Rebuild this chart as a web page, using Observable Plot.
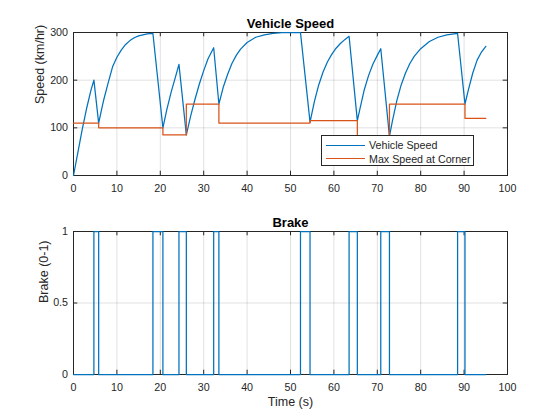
<!DOCTYPE html>
<html>
<head>
<meta charset="utf-8">
<script src="https://cdn.jsdelivr.net/npm/d3@7"></script>
<script src="https://cdn.jsdelivr.net/npm/@observablehq/plot@0.6"></script>
<style>
  body { margin: 0; background: #fff; }
  #wrap { position: relative; width: 560px; height: 420px; font-family: "Liberation Sans", Arial, sans-serif; }
  #wrap svg { display: block; }
  .legend { position: absolute; left: 321px; top: 135px; width: 153px; height: 31px; box-sizing: border-box;
            border: 1px solid #262626; background: #fff; font-size: 10.7px; color: #262626; }
  .legend .row { position: absolute; left: 4px; height: 12px; display: flex; align-items: center; }
  .legend .sw { width: 39px; height: 0; border-top: 1.3px solid; margin-right: 4px; }
</style>
</head>
<body>
<div id="wrap"></div>
<script>
// ---- data ----
const speedTime  = [0, 1, 2, 3, 4, 4.7, 5.8, 6.5, 7, 8, 9, 10, 11, 12, 13, 14, 15, 16, 17, 18.3,
                    20.6, 21.5, 22.5, 23.5, 24.3, 26, 27, 28, 29, 30, 31, 32.3,
                    33.5, 34.5, 35.5, 36.5, 37.5, 38.5, 40, 42, 44, 46, 48, 50, 52.3,
                    54.5, 55.5, 56.5, 57.5, 58.5, 59.5, 60.5, 61.5, 62.5, 63.5,
                    65.4, 66, 67, 68, 69, 70, 70.8,
                    72.8, 73.5, 74.5, 75.5, 76.5, 77.5, 78.5, 80, 82, 84, 86, 88.5,
                    90.2, 91, 92, 93, 94, 95];
const speedValue = [0, 48, 96, 140, 178, 200, 110, 140, 160, 195, 228, 248, 263, 275, 283, 289, 293, 295, 297, 298,
                    100, 138, 175, 207, 233, 85, 125, 160, 192, 220, 245, 268,
                    150, 185, 212, 235, 252, 265, 279, 290, 295, 298, 299.5, 300, 300,
                    112, 155, 190, 217, 238, 254, 267, 277, 285, 292,
                    115, 140, 180, 210, 234, 252, 266,
                    82, 115, 157, 190, 215, 235, 250, 266, 281, 290, 295, 298,
                    150, 180, 215, 242, 259, 271];
const cornerTime = [0, 5.8, 20.6, 26, 33.5, 54.5, 65.4, 72.8, 90.2, 95];
const cornerMax  = [110, 100, 85, 150, 110, 115, 80, 150, 120, 120];
const brakeTime  = [0, 4.7, 5.8, 18.3, 20.6, 24.3, 26, 32.3, 33.5, 52.3, 54.5, 63.5, 65.4, 70.8, 72.8, 88.5, 90.2, 95];
const brakeValue = [0, 1, 0, 1, 0, 1, 0, 1, 0, 1, 0, 1, 0, 1, 0, 1, 0, 0];
const xTicks     = [0, 10, 20, 30, 40, 50, 60, 70, 80, 90, 100];
const speedTicks = [0, 100, 200, 300];
const brakeTicks = [0, 0.5, 1];

const seriesNames = ["Vehicle Speed", "Max Speed at Corner"];
const colors = ["#0072BD", "#D95319"];

const speed  = speedTime.map((t, i) => ({t, v: speedValue[i]}));
const corner = cornerTime.map((t, i) => ({t, v: cornerMax[i]}));
const brake  = brakeTime.map((t, i) => ({t, v: brakeValue[i]}));

const W = 560, ML = 73, MR = 53, H = 210, innerH = 143, innerW = W - ML - MR;
const TL = 4.3; // inner tick length
const axisColor = "#262626";
const gridStyle = {stroke: "#000", strokeOpacity: 0.12, strokeWidth: 1};

function innerTicks(yT) {
  return [
    Plot.ruleX(xTicks, {stroke: axisColor, insetBottom: innerH - TL}),
    Plot.ruleX(xTicks, {stroke: axisColor, insetTop: innerH - TL}),
    Plot.ruleY(yT, {stroke: axisColor, insetRight: innerW - TL}),
    Plot.ruleY(yT, {stroke: axisColor, insetLeft: innerW - TL})
  ];
}

const common = {
  width: W, height: H, marginLeft: ML, marginRight: MR,
  style: {fontFamily: '"Liberation Sans", Arial, sans-serif', fontSize: "10.7px", color: axisColor, background: "white"}
};

const speedChart = Plot.plot({
  ...common,
  marginTop: 32, marginBottom: 35,
  x: {domain: [0, 100], ticks: xTicks, tickSize: 0, tickPadding: 9, label: null},
  y: {domain: [0, 300], ticks: speedTicks, tickSize: 0, tickPadding: 5.5, label: null},
  marks: [
    Plot.gridX(xTicks, gridStyle),
    Plot.gridY(speedTicks, gridStyle),
    ...innerTicks(speedTicks),
    Plot.frame({stroke: axisColor}),
    Plot.line(speed, {x: "t", y: "v", stroke: colors[0], strokeWidth: 1.25}),
    Plot.line(corner, {x: "t", y: "v", curve: "step-after", stroke: colors[1], strokeWidth: 1.25}),
    Plot.text(["Vehicle Speed"], {frameAnchor: "top", dy: -5, lineAnchor: "bottom", fontWeight: "bold", fontSize: 13, fill: "#000"}),
    Plot.text(["Speed (km/hr)"], {frameAnchor: "left", dx: -34, rotate: -90, fontSize: 12.5, fill: axisColor})
  ]
});

const brakeChart = Plot.plot({
  ...common,
  marginTop: 21, marginBottom: 46,
  x: {domain: [0, 100], ticks: xTicks, tickSize: 0, tickPadding: 9, label: null},
  y: {domain: [0, 1], ticks: brakeTicks, tickSize: 0, tickPadding: 5.5, label: null, tickFormat: d => String(d)},
  marks: [
    Plot.gridX(xTicks, gridStyle),
    Plot.gridY(brakeTicks, gridStyle),
    ...innerTicks(brakeTicks),
    Plot.frame({stroke: axisColor}),
    Plot.line(brake, {x: "t", y: "v", curve: "step-after", stroke: colors[0], strokeWidth: 1.25}),
    Plot.text(["Brake"], {frameAnchor: "top", dy: -5, lineAnchor: "bottom", fontWeight: "bold", fontSize: 13, fill: "#000"}),
    Plot.text(["Brake (0-1)"], {frameAnchor: "left", dx: -30, rotate: -90, fontSize: 12.5, fill: axisColor}),
    Plot.text(["Time (s)"], {frameAnchor: "bottom", dy: 31, fontSize: 12.5, fill: axisColor})
  ]
});

const wrap = document.getElementById("wrap");
wrap.appendChild(speedChart);
wrap.appendChild(brakeChart);

// legend
const leg = document.createElement("div");
leg.className = "legend";
seriesNames.forEach((name, i) => {
  const row = document.createElement("div");
  row.className = "row";
  row.style.top = (i === 0 ? 3 : 16.5) + "px";
  const sw = document.createElement("span");
  sw.className = "sw";
  sw.style.borderTopColor = colors[i];
  const tx = document.createElement("span");
  tx.textContent = name;
  row.appendChild(sw);
  row.appendChild(tx);
  leg.appendChild(row);
});
wrap.appendChild(leg);
</script>
</body>
</html>
